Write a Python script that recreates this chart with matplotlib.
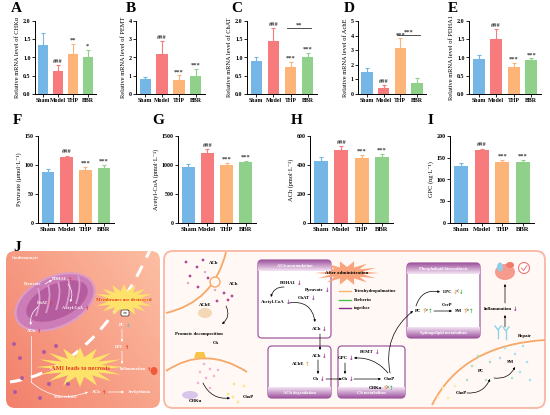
import numpy as np
import matplotlib
matplotlib.use('Agg')
import matplotlib.pyplot as plt
from matplotlib.patches import FancyBboxPatch, Ellipse, Polygon, Circle, FancyArrowPatch, PathPatch
from matplotlib.path import Path

plt.rcParams['font.family'] = ['Liberation Serif', 'DejaVu Serif']
plt.rcParams['font.weight'] = 'bold'

# ---------------- data ----------------
groups = ['Sham', 'Model', 'THP', 'BBR']
bar_colors = ['#74b6e6', '#f77b7c', '#fdb478', '#8fd18b']

chka_mean = [1.33, 0.63, 1.10, 1.00]
chka_err = [0.35, 0.17, 0.28, 0.21]
chka_sig = ['', '###', '**', '*']

pemt_mean = [0.82, 2.20, 0.78, 0.97]
pemt_err = [0.10, 0.68, 0.25, 0.40]
pemt_sig = ['', '###', '***', '***']

chat_mean = [0.91, 1.46, 0.75, 1.02]
chat_err = [0.11, 0.34, 0.14, 0.11]
chat_sig = ['', '###', '***', '***']

ache_mean = [1.48, 0.38, 3.12, 0.72]
ache_err = [0.30, 0.22, 0.70, 0.37]
ache_sig = ['', '###', '***', '']

pdha1_mean = [0.96, 1.51, 0.75, 0.92]
pdha1_err = [0.12, 0.28, 0.10, 0.06]
pdha1_sig = ['', '###', '***', '***']

pyr_mean = [88, 113, 92, 95]
pyr_err = [5, 3, 4, 5]
acoa_mean = [970, 1210, 1000, 1045]
acoa_err = [50, 60, 40, 30]
ach_mean = [425, 505, 445, 458]
ach_err = [28, 25, 22, 18]
gpc_mean = [130, 167, 140, 140]
gpc_err = [9, 4, 5, 4]
row2_sig = ['', '###', '***', '***']

W, H = 550, 415
fig = plt.figure(figsize=(5.5, 4.15), dpi=100)
fig.patch.set_facecolor('white')

# overlay axes in pixel units for panel J
ov = fig.add_axes([0, 0, 1, 1], zorder=0)
ov.set_xlim(0, W)
ov.set_ylim(H, 0)
ov.axis('off')


def px_axes(l, t, r, b):
    return fig.add_axes([l / W, 1 - b / H, (r - l) / W, (b - t) / H], zorder=2)


def bar_panel(rect, letter, ylabel, means, errs, ylim, yticks, ticklabels, sigs,
              bracket=None, lab_dx=-24, lab_dy=-12, xfs=4.2):
    ax = px_axes(*rect)
    x = np.arange(len(groups))
    ax.bar(x, means, width=0.68, color=bar_colors, zorder=2)
    for xi, m, e, c, s in zip(x, means, errs, bar_colors, sigs):
        ax.errorbar(xi, m, yerr=[[0], [e]], color=c, capsize=1.6, elinewidth=0.8,
                    capthick=0.8, zorder=1)
        if s:
            ax.text(xi, m + e + (ylim[1] - ylim[0]) * 0.015, s, ha='center', va='bottom',
                    fontsize=4.6, color='#333333', fontweight='bold')
    if bracket:
        i0, i1, yb, s = bracket
        ax.plot([i0 - 0.2, i1 + 0.2], [yb, yb], color='#333333', lw=0.6)
        ax.text((i0 + i1) / 2, yb + (ylim[1] - ylim[0]) * 0.01, s, ha='center', va='bottom',
                fontsize=4.6, color='#333333')
    ax.set_xlim(-0.55, 3.55)
    ax.set_ylim(*ylim)
    ax.set_yticks(yticks)
    ax.set_yticklabels(ticklabels)
    ax.set_xticks(x)
    ax.set_xticklabels(groups)
    ax.tick_params(axis='both', labelsize=4.3, width=0.6, length=2, pad=1.2)
    ax.tick_params(axis='x', labelsize=xfs)
    for sp in ['top', 'right']:
        ax.spines[sp].set_visible(False)
    for sp in ['left', 'bottom']:
        ax.spines[sp].set_linewidth(0.7)
    ax.set_ylabel(ylabel, fontsize=4.6, labelpad=2)
    ax.patch.set_alpha(0)
    fig.text((rect[0] + lab_dx) / W, 1 - (rect[1] + lab_dy) / H, letter, fontsize=11,
             fontweight='bold', ha='left', va='center')
    return ax


r1t, r1b = 21, 94
bar_panel((35, r1t, 96, r1b), 'A', 'Relative mRNA level of CHKα', chka_mean, chka_err,
          (0, 2.0), [0, 0.5, 1.0, 1.5, 2.0], ['0.0', '0.5', '1.0', '1.5', '2.0'], chka_sig)
bar_panel((136, r1t, 205, r1b), 'B', 'Relative mRNA level of PEMT', pemt_mean, pemt_err,
          (0, 4), [0, 1, 2, 3, 4], ['0', '1', '2', '3', '4'], pemt_sig, lab_dx=-10)
bar_panel((247, r1t, 317, r1b), 'C', 'Relative mRNA level of ChAT', chat_mean, chat_err,
          (0, 2.0), [0, 0.5, 1.0, 1.5, 2.0], ['0.0', '0.5', '1.0', '1.5', '2.0'], chat_sig,
          bracket=(2, 3, 1.80, '**'), lab_dx=-16)
bar_panel((358, r1t, 426, r1b), 'D', 'Relative mRNA level of AchE', ache_mean, ache_err,
          (0, 5), [0, 1, 2, 3, 4, 5], ['0', '1', '2', '3', '4', '5'], ache_sig,
          bracket=(2, 3, 4.05, '***'), lab_dx=-14)
bar_panel((469, r1t, 541, r1b), 'E', 'Relative mRNA level of PDHA1', pdha1_mean, pdha1_err,
          (0, 2.0), [0, 0.5, 1.0, 1.5, 2.0], ['0.0', '0.5', '1.0', '1.5', '2.0'], pdha1_sig,
          lab_dx=-21)

r2t, r2b = 136, 223
bar_panel((38, r2t, 114, r2b), 'F', 'Pyruvate (μmol·L⁻¹)', pyr_mean, pyr_err,
          (0, 150), [0, 50, 100, 150], ['0', '50', '100', '150'], row2_sig, lab_dx=-25,
          lab_dy=-15, xfs=4.8)
bar_panel((178, r2t, 256, r2b), 'G', 'Acetyl-CoA (pmol·L⁻¹)', acoa_mean, acoa_err,
          (0, 1500), [0, 500, 1000, 1500], ['0', '500', '1000', '1500'], row2_sig,
          lab_dx=-26, lab_dy=-15, xfs=4.8)
bar_panel((310, r2t, 393, r2b), 'H', 'ACh (pmol·L⁻¹)', ach_mean, ach_err,
          (0, 600), [0, 200, 400, 600], ['0', '200', '400', '600'], row2_sig,
          lab_dx=-19, lab_dy=-15, xfs=4.8)
bar_panel((450, r2t, 534, r2b), 'I', 'GPC (ng·L⁻¹)', gpc_mean, gpc_err,
          (0, 200), [0, 50, 100, 150, 200], ['0', '50', '100', '150', '200'], row2_sig,
          lab_dx=-22, lab_dy=-15, xfs=4.8)

# ---------------- panel J (schematic) ----------------
fig.text(13 / W, 1 - 247 / H, 'J', fontsize=11, fontweight='bold', ha='left', va='center')

ARW = ['DejaVu Sans']


def star(cx, cy, rx, ry, n=14, inner=0.55, color='#fde36a', z=3, rot=0.0):
    ang = np.linspace(0, 2 * np.pi, 2 * n, endpoint=False) + rot
    rad = np.where(np.arange(2 * n) % 2 == 0, 1.0, inner)
    pts = np.column_stack([cx + rx * rad * np.cos(ang), cy + ry * rad * np.sin(ang)])
    ov.add_patch(Polygon(pts, closed=True, facecolor=color, edgecolor='none', zorder=z))


def txt(x, y, s, fs=3.4, color='black', ha='center', z=6, **kw):
    ov.text(x, y, s, fontsize=fs, color=color, ha=ha, va='center', fontweight='bold',
            zorder=z, **kw)


def lab(x, y, s, pieces, fs=3.4, color='black', z=6):
    """label right-aligned at x followed by coloured arrow pieces"""
    txt(x, y, s, fs=fs, color=color, ha='right', z=z)
    xx = x + 0.6
    for p, c in pieces:
        fam = ARW if p in '↑↓' else None
        ov.text(xx, y, p, fontsize=fs + 0.6, color=c, ha='left', va='center',
                fontweight='bold', zorder=z, family=fam)
        xx += 3.6 if p in '↑↓' else 3.0


def arrow(p0, p1, rad=0.0, color='black', lw=0.5, z=5, ms=3):
    ov.add_patch(FancyArrowPatch(p0, p1, connectionstyle=f'arc3,rad={rad}',
                                 arrowstyle='-|>', mutation_scale=ms, color=color,
                                 lw=lw, zorder=z, shrinkA=0, shrinkB=0))


def curve(pts, color, lw=1.2, z=3, ls='-'):
    codes = [Path.MOVETO] + [Path.CURVE3] * (len(pts) - 1)
    ov.add_patch(PathPatch(Path(pts, codes), facecolor='none', edgecolor=color, lw=lw,
                           zorder=z, linestyle=ls))


def dots(pts, color, r=1.6, z=4):
    for (x, y) in pts:
        ov.add_patch(Circle((x, y), r, facecolor=color, edgecolor='none', zorder=z))


# left box (cardiomyocyte) with gradient
lbox = FancyBboxPatch((6, 251), 154, 157, boxstyle='round,pad=0,rounding_size=9',
                      facecolor='none', edgecolor='none', zorder=1)
ov.add_patch(lbox)
gx = np.linspace(0, 1, 200)
gy = np.linspace(0, 1, 200)
GX, GY = np.meshgrid(gx, gy)
c0 = np.array([0.95, 0.50, 0.42])
c1 = np.array([0.99, 0.75, 0.64])
tmix = np.clip(0.6 * GX + 0.4 * (1 - GY), 0, 1)[..., None]
img = c0 * (1 - tmix) + c1 * tmix
im = ov.imshow(img, extent=(6, 160, 408, 251), origin='upper', zorder=1, aspect='auto')
im.set_clip_path(lbox)
ov.set_xlim(0, W)
ov.set_ylim(H, 0)

txt(12, 258, 'Cardiomyocyte', fs=3.0, color='white', ha='left')

# mitochondrion
ov.add_patch(Ellipse((55, 302), 84, 50, angle=-25, facecolor='#cc7cb6', edgecolor='#dd9cc8',
                     lw=1.5, zorder=2))
ov.add_patch(Ellipse((57, 301), 66, 34, angle=-25, facecolor='#b45c9e', edgecolor='none',
                     zorder=2))
for k in range(5):
    xs = 36 + k * 10
    curve([(xs, 316 - k * 3), (xs + 6, 300 - k * 4), (xs + 2, 288 - k * 3)], '#dc9ccb',
          lw=1.3, z=2)

txt(33, 284, 'Pyruvate', fs=3.2, color='white')
lab(67, 279, 'PDHA1', [('↑', '#e8321e')], fs=3.2, color='white')
lab(48, 303, 'ChAT', [('↑', '#e8321e')], fs=3.2, color='white')
lab(84, 308, 'Acetyl-CoA', [('↑', '#e8321e')], fs=3.2, color='white')
lab(36, 331, 'ACh', [('↑', '#e8321e')], fs=3.2, color='white')
arrow((45, 284), (52, 280), color='white', lw=0.5)
arrow((68, 284), (70, 302), rad=-0.3, color='white', lw=0.5)
arrow((38, 307), (31, 325), rad=0.3, color='white', lw=0.5)

# dashed membrane line
curve([(10, 382), (95, 370), (150, 250)], 'white', lw=2.2, z=3, ls=(0, (4, 3)))

# stars
star(124, 300, 30, 16, n=16, inner=0.55, z=3)
txt(124, 300, 'Membranes are destroyed', fs=3.6, color='#e8321e')
ov.add_patch(FancyBboxPatch((121, 310), 8, 6, boxstyle='round,pad=0,rounding_size=1.5',
                            facecolor='white', edgecolor='black', lw=0.4, zorder=5))
txt(125, 313, '✕✕', fs=2.2, family=['DejaVu Sans'])
star(80, 367, 44, 20, n=16, inner=0.5, z=3)
txt(80, 368, 'AMI leads to necrosis', fs=4.6, color='#e8321e')

lab(125, 325, 'PC', [('↓', '#49b9e0')], fs=3.2, color='white')
lab(124, 347, 'LPC', [('↑', '#e8321e')], fs=3.2, color='white')
lab(146, 369, 'Inflammation', [('↑', '#e8321e')], fs=3.2, color='white')
ov.add_patch(Ellipse((154, 371), 7, 8, facecolor='#f05a3a', edgecolor='none', zorder=4))
arrow((122, 329), (122, 342), color='white', lw=0.5)
arrow((122, 351), (122, 364), color='white', lw=0.5)

# mass release
ov.plot([31, 31], [336, 382], color='white', lw=0.5, zorder=4)
arrow((31, 382), (88, 392), rad=0.3, color='white', lw=0.5)
txt(65, 397, 'Mass release', fs=3.0, color='white')
lab(101, 392, 'ACh', [('↑', '#e8321e')], fs=3.2, color='white')
arrow((108, 392), (124, 392), color='white', lw=0.5)
txt(140, 392, 'Arrhythmia', fs=3.2, color='white')
dots([(14, 344), (20, 358), (44, 352), (22, 378), (49, 384), (40, 398), (68, 384),
      (56, 346), (15, 392)], '#b25a9e', r=2.0)

# right box
ov.add_patch(FancyBboxPatch((164, 251), 381, 157, boxstyle='round,pad=0,rounding_size=9',
                            facecolor='#fff8f5', edgecolor='#f9b6a3', lw=1.3, zorder=1))

# synapse region (top-left)
curve([(166, 313), (214, 302), (226, 252)], '#f7a868', lw=1.3)
ov.add_patch(Circle((215, 282), 5, facecolor='#fff8f5', edgecolor='#f7a868', lw=1.0, zorder=3))
dots([(186, 262), (197, 267), (190, 276), (203, 260), (208, 278), (198, 287), (224, 293),
      (228, 300), (217, 301), (232, 296)], '#b04a98', r=1.4)
dots([(188, 283), (205, 272), (215, 290)], '#e3a3cc', r=1.2)
txt(214, 263, 'ACh')
txt(234, 284, 'ACh')
ov.add_patch(Ellipse((205, 313), 14, 10, facecolor='#f4d7b4', edgecolor='none', zorder=3))
txt(205, 305, 'AChE')
arrow((226, 306), (222, 324), rad=-0.4, lw=0.5)
txt(199, 334, 'Promote decomposition')
txt(216, 343, 'Ch')

curve([(166, 371), (205, 345), (247, 372)], '#f7a868', lw=1.3)
ov.add_patch(Polygon([(196, 352), (204, 352), (206, 358), (194, 358)], facecolor='#f7c446',
                     edgecolor='none', zorder=4))
dots([(204, 364), (210, 369), (200, 372), (206, 378), (214, 376), (198, 383), (210, 388),
      (218, 370)], '#f2b3d6', r=1.3)
ov.add_patch(Ellipse((190, 395), 16, 8, facecolor='#d9c4ea', edgecolor='none', zorder=3))
txt(195, 401, 'CHKα')
arrow((203, 383), (230, 398), rad=0.35, lw=0.5)
dots([(234, 384), (244, 386), (228, 394), (238, 402), (233, 397)], '#fde58a', r=1.4)
txt(248, 397, 'ChoP')


def module(x0, y0, w, h, title, top=True, title2=None):
    ov.add_patch(FancyBboxPatch((x0, y0), w, h, boxstyle='round,pad=0,rounding_size=4',
                                facecolor='white', edgecolor='#a15aa0', lw=0.9, zorder=3))
    hh = 11
    grad = np.linspace(0, 1, 50)[:, None, None]
    dark = np.array([0.62, 0.33, 0.62])
    light = np.array([0.96, 0.90, 0.96])
    if top:
        ys = (y0, y0 + hh)
        g = dark * (1 - grad) + light * grad
        im2 = ov.imshow(g * np.ones((1, 10, 1)), extent=(x0, x0 + w, ys[1], ys[0]),
                        zorder=3.5, aspect='auto')
        clip = FancyBboxPatch((x0, y0), w, h, boxstyle='round,pad=0,rounding_size=4',
                              transform=ov.transData, facecolor='none', edgecolor='none')
        im2.set_clip_path(clip)
        txt(x0 + w / 2, y0 + 5.5, title, fs=3.2, color='white')
    if (not top) or title2:
        t2 = title if not top else title2
        g = light * (1 - grad) + dark * grad
        im3 = ov.imshow(g * np.ones((1, 10, 1)), extent=(x0, x0 + w, y0 + h, y0 + h - hh),
                        zorder=3.5, aspect='auto')
        clip = FancyBboxPatch((x0, y0), w, h, boxstyle='round,pad=0,rounding_size=4',
                              transform=ov.transData, facecolor='none', edgecolor='none')
        im3.set_clip_path(clip)
        txt(x0 + w / 2, y0 + h - 5, t2, fs=3.2, color='white')
    ov.set_xlim(0, W)
    ov.set_ylim(H, 0)


PUR = '#9b2f96'
ORG = '#f6a94e'
GRN = '#45be4a'

module(258, 260, 73, 78, 'ACh accumulation')
lab(296, 283, 'PDHA1', [('↓', PUR)])
lab(324, 290, 'Pyruvate', [('↓', PUR)])
lab(285, 302, 'Acetyl-CoA', [('↓', PUR)])
lab(310, 298, 'ChAT', [('↓', PUR)])
lab(321, 329, 'ACh', [('↓', PUR)])
arrow((284, 287), (271, 297), rad=0.4, lw=0.5)
arrow((289, 303), (315, 322), rad=-0.5, lw=0.5)
arrow((320, 334), (320, 350), lw=0.5)

star(347, 273, 32, 12, n=14, inner=0.5, color='#f9a47d')
txt(347, 273, 'After administration', fs=3.5)
for yy, cc, tt in [(291, '#f9b46b', 'Tetrahydropalmatine'), (300, '#4cc14a', 'Berberin'),
                   (308, '#8b2c8c', 'together')]:
    ov.plot([339, 351], [yy, yy], color=cc, lw=1.0, zorder=5)
    txt(354, yy, tt, ha='left', fs=3.3)

module(268, 346, 63, 52, 'ACh degradation', top=False)
lab(321, 356, 'ACh', [('↓', PUR)])
lab(304, 364, 'AChE', [('↑', ORG)])
lab(319, 379, 'Ch', [('↓', PUR)])
arrow((318, 360), (318, 374), lw=0.5)
arrow((326, 379), (342, 379), lw=0.5)

module(338, 346, 67, 52, 'Ch metabolism', top=False)
lab(348, 358, 'GPC', [('↓', PUR)])
lab(374, 352, 'PEMT', [('↓', PUR)])
lab(348, 379, 'Ch', [('↓', PUR)])
txt(389, 379, 'ChoP')
lab(382, 388, 'CHKα', [('↑', ORG), ('>', 'black'), ('↑', GRN)])
arrow((345, 363), (345, 374), lw=0.5)
arrow((354, 379), (381, 379), lw=0.5)
arrow((388, 373), (354, 358), rad=0.25, lw=0.5)
arrow((390, 373), (413, 311), rad=-0.3, lw=0.5)

module(407, 263, 73, 75, 'Phospholipid biosynthesis', top=True,
       title2='Sphingolipid metabolism')
lab(421, 311, 'PC', [('↑', ORG), ('>', 'black'), ('↑', GRN)])
lab(452, 292, 'LPC', [('↓', ORG), ('<', 'black'), ('↓', GRN)])
lab(462, 311, 'SM', [('↑', ORG), ('>', 'black'), ('↑', GRN)])
txt(447, 305, 'CerP')
arrow((434, 311), (452, 311), lw=0.5)
arrow((416, 306), (440, 292), rad=-0.45, lw=0.5)

# right column
ov.add_patch(Ellipse((505, 272), 20, 16, facecolor='#f59a8c', edgecolor='none', zorder=4))
ov.add_patch(Ellipse((500, 267), 6, 9, facecolor='#8fcfe6', edgecolor='none', zorder=4))
ov.add_patch(Ellipse((510, 265), 8, 6, facecolor='#f07a6c', edgecolor='none', zorder=4))
ov.add_patch(Circle((524, 268), 5.5, facecolor='white', edgecolor='#f07777', lw=0.8, zorder=4))
ov.plot([521.5, 523.5, 527], [268, 270.5, 265.5], color='#f07777', lw=0.7, zorder=5)
lab(512, 309, 'Inflammation', [('↓', PUR)])
arrow((505, 303), (505, 284), lw=0.5)
arrow((505, 327), (505, 315), lw=0.5)
for xa, ya, ca in [(498, 330, '#8fd3e8'), (506, 331, '#8fd3e8')]:
    ov.plot([xa, xa], [ya + 8, ya], color=ca, lw=1.0, zorder=5)
    ov.plot([xa - 3, xa, xa + 3], [ya - 4, ya, ya - 4], color=ca, lw=1.0, zorder=5)
txt(525, 336, 'Repair')
curve([(432, 405), (462, 345), (545, 340)], '#f7a868', lw=1.3)
ov.plot([466, 476], [345, 342], color='#fff8f5', lw=2.0, zorder=3.2)
dots([(505, 348), (515, 354), (523, 346), (527, 362), (520, 372), (530, 380), (512, 378),
      (500, 358)], '#a5e4e8', r=1.3)
dots([(478, 356), (472, 366), (486, 380), (467, 380), (490, 362)], '#aee2b8', r=1.3)
dots([(443, 388), (448, 398), (438, 397), (455, 386)], '#fde8a6', r=1.3)
txt(510, 362, 'SM')
txt(481, 371, 'PC')
txt(461, 393, 'ChoP')
arrow((467, 393), (490, 379), rad=0.35, lw=0.5)
arrow((494, 378), (515, 367), rad=0.35, lw=0.5)

fig.savefig('out.png', dpi=100, facecolor='white')
